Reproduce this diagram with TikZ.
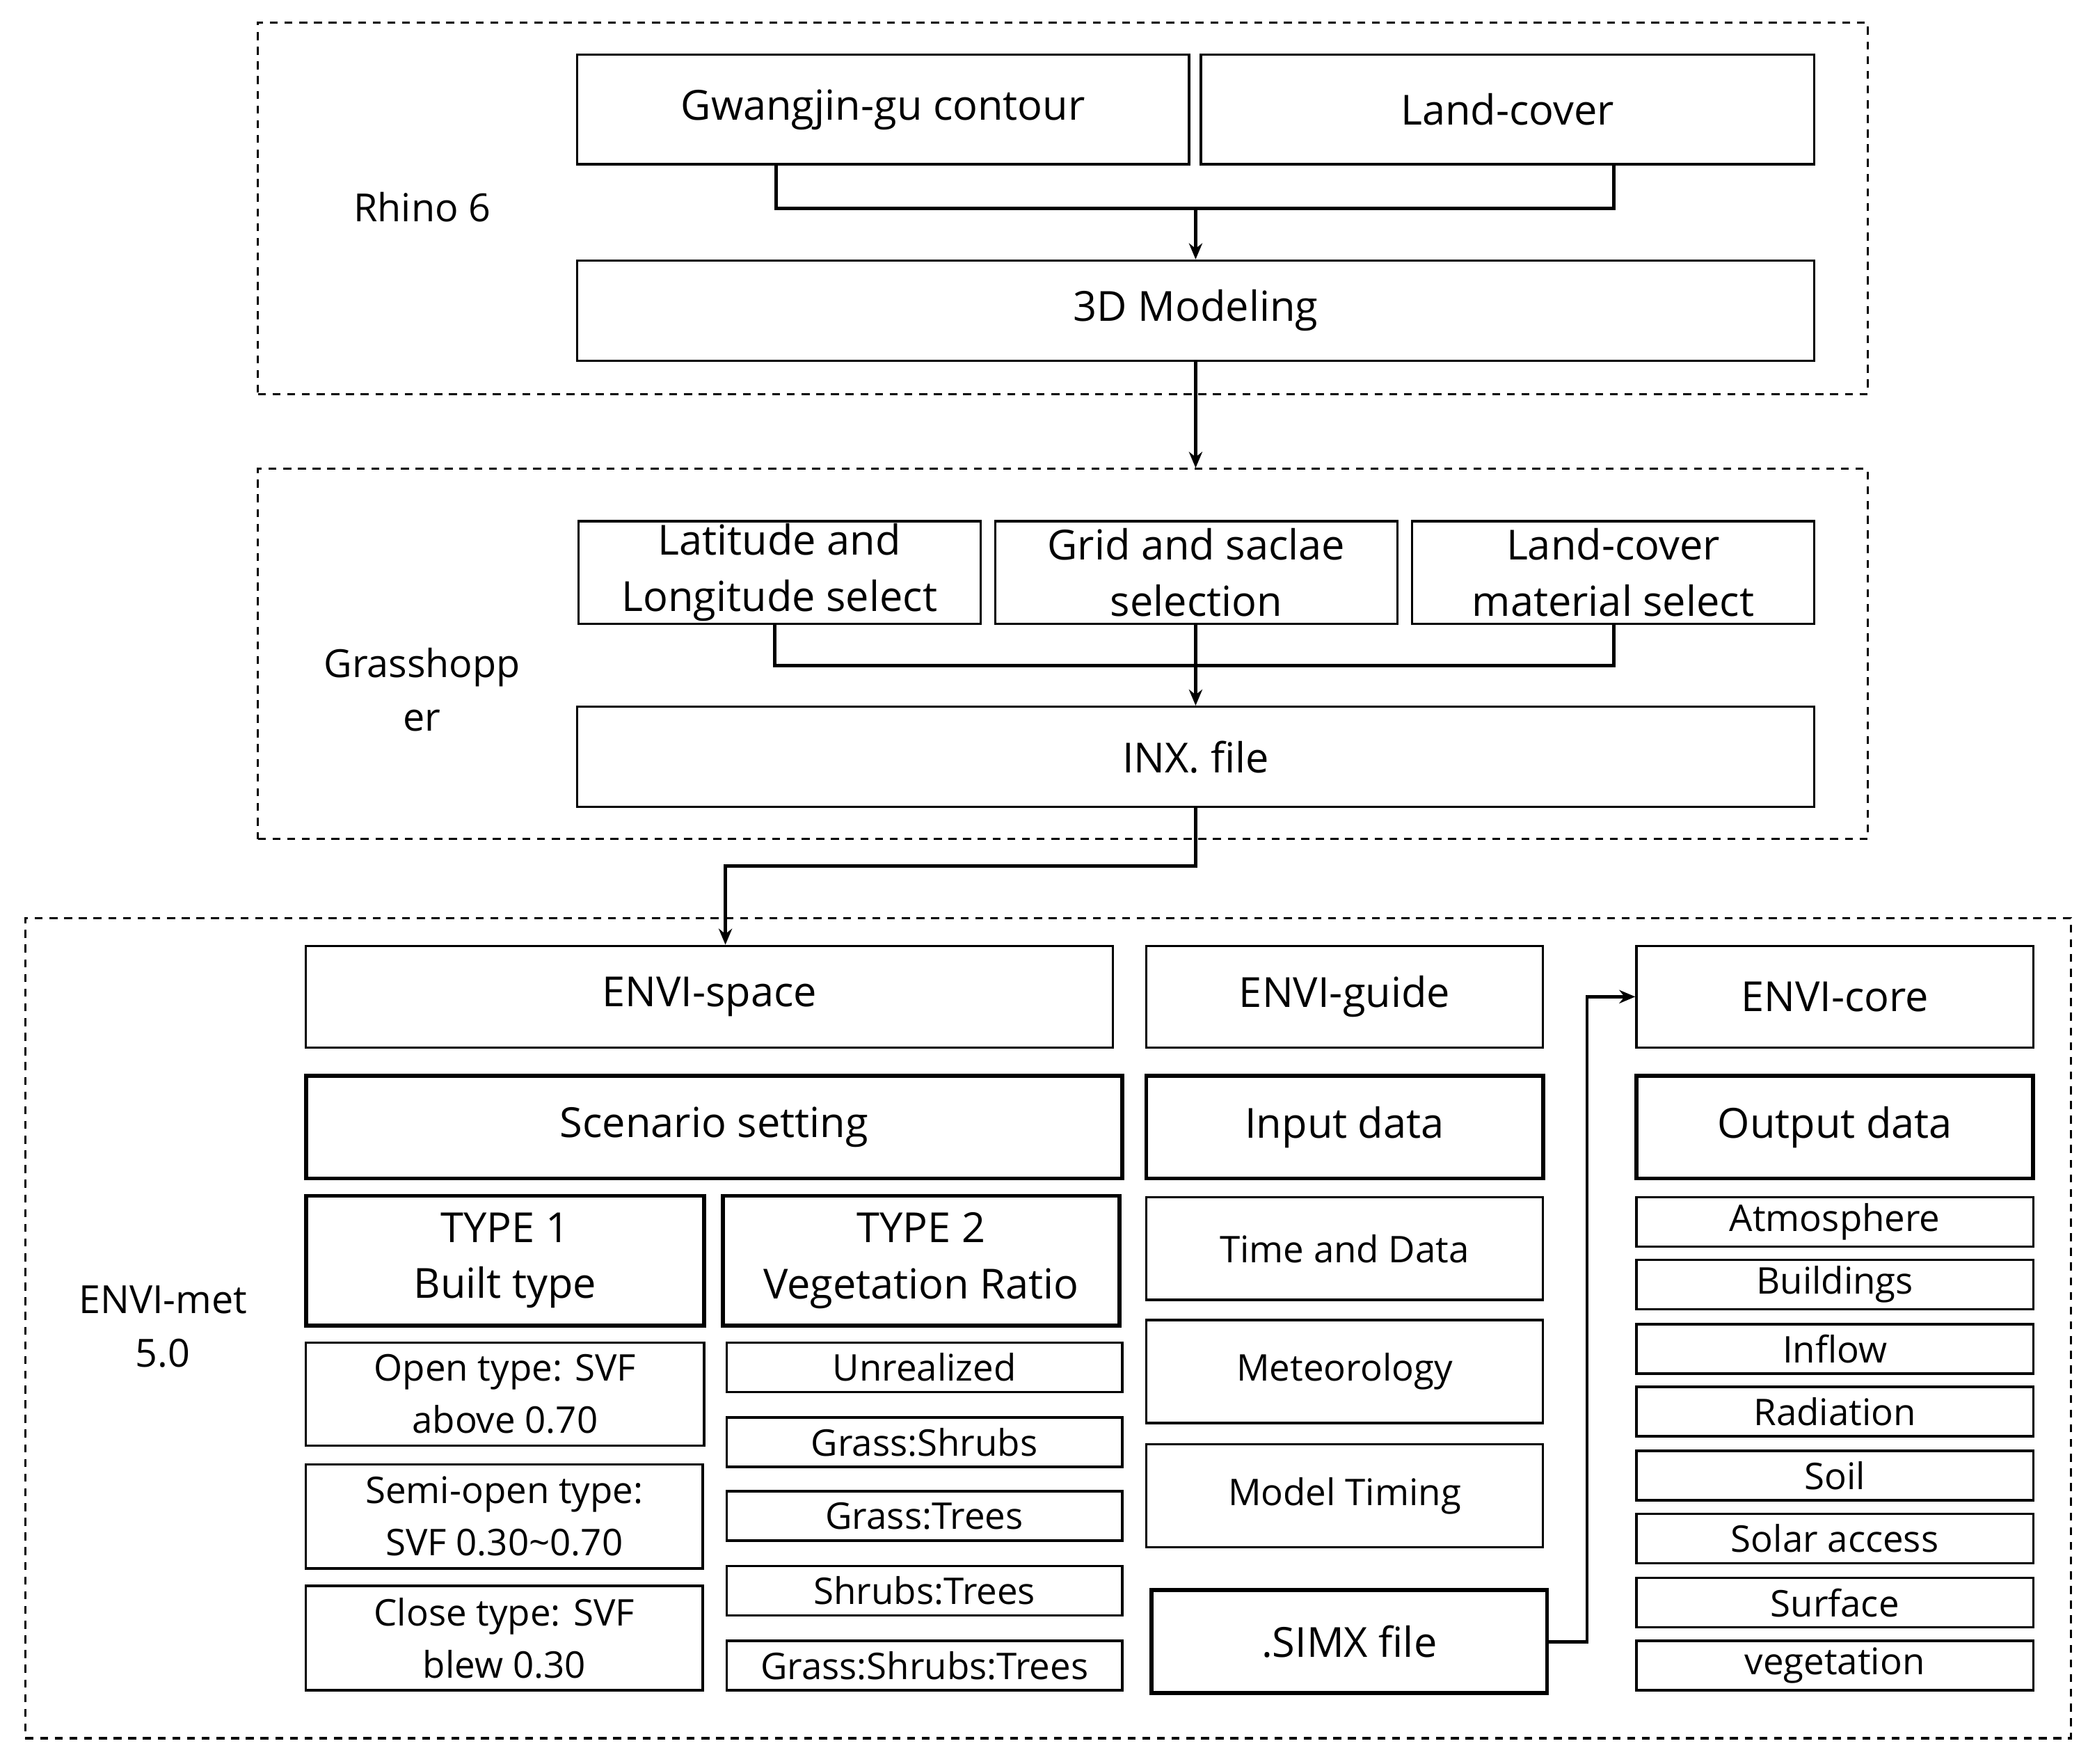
\documentclass[tikz,border=0pt]{standalone}
\usepackage{fontspec}
\setmainfont{Open Sans}
\usetikzlibrary{arrows.meta}
\begin{document}
\begin{tikzpicture}[x=1pt,y=-1pt,
 bx/.style={draw,line width=1.8pt,align=center,inner sep=0pt,font=\fontsize{31}{42}\selectfont},
 tb/.style={bx,line width=3pt},
 sm/.style={bx,font=\fontsize{27.5}{39}\selectfont},
 grp/.style={draw,dashed,line width=1.6pt,dash pattern=on 6pt off 5pt},
 lab/.style={align=center,font=\fontsize{29}{40}\selectfont},
 con/.style={line width=2.5pt},
 arr/.style={con,-{Stealth[length=12pt,width=10pt]}}]
\fill[white] (0,0) rectangle (1563,1320);
\useasboundingbox (0,0) rectangle (1563,1320);
\def\B#1#2#3#4#5#6#7{\node[#1,minimum width={#5-#3},minimum height={#6-#4}] (#2) at ({(#3+#5)/2},{(#4+#6)/2}) {#7};}
% groups
\node[grp,minimum width=1205,minimum height=278,inner sep=0] (g1) at (795.5,156) {};
\node[grp,minimum width=1205,minimum height=277,inner sep=0] (g2) at (795.5,489.5) {};
\node[grp,minimum width=1531,minimum height=614,inner sep=0] (g3) at (784.5,994) {};
\node[lab] (l1) at (316,155) {Rhino 6};
\node[lab] (l2) at (316,516) {Grasshopp\\er};
\node[lab] (l3) at (122,993) {ENVI-met\\5.0};
% rhino
\B{bx}{gw}{432}{41}{890}{123}{Gwangjin-gu contour}
\B{bx}{lc}{899}{41}{1358}{123}{Land-cover}
\B{bx}{md}{432}{195}{1358}{270}{3D Modeling}
\coordinate (j1) at (895,156);
\draw[con] (gw.south -| 581,0) |- (j1) -| (lc.south -| 1208,0);
\draw[arr] (j1) -- (md.north -| j1);
\draw[arr] (md.south -| j1) -- (g2.north -| j1);
% grasshopper
\B{bx}{la}{433}{390}{734}{467}{Latitude and\\Longitude select}
\B{bx}{gr}{745}{390}{1046}{467}{Grid and saclae\\selection}
\B{bx}{lm}{1057}{390}{1358}{467}{Land-cover\\material select}
\B{bx}{inx}{432}{529}{1358}{604}{INX. file}
\coordinate (j2) at (895,498);
\draw[con] (la.south -| 580,0) |- (j2) -| (lm.south -| 1208,0);
\draw[con] (gr.south -| j2) -- (j2);
\draw[arr] (j2) -- (inx.north -| j2);
% envi
\B{bx}{es}{229}{708}{833}{784}{ENVI-space}
\B{bx}{eg}{858}{708}{1155}{784}{ENVI-guide}
\B{bx}{ec}{1225}{708}{1522}{784}{ENVI-core}
\coordinate (j3) at (895,648);
\draw[arr] (inx.south -| j3) -- (j3) -| (es.north -| 543,0);
\B{tb}{sc}{229}{805}{840}{882}{Scenario setting}
\B{tb}{id}{858}{805}{1155}{882}{Input data}
\B{tb}{od}{1225}{805}{1522}{882}{Output data}
\B{tb}{t1}{229}{895}{527}{992}{TYPE 1\\Built type}
\B{tb}{t2}{541}{895}{838}{992}{TYPE 2\\Vegetation Ratio}
\B{sm}{o1}{229}{1005}{527}{1082}{Open type: SVF\\above 0.70}
\B{sm}{o2}{229}{1096}{526}{1174}{Semi-open type:\\SVF 0.30\textasciitilde0.70}
\B{sm}{o3}{229}{1187}{526}{1265}{Close type: SVF\\blew 0.30}
\B{sm}{v1}{544}{1005}{840}{1042}{Unrealized}
\B{sm}{v2}{544}{1061}{840}{1098}{Grass:Shrubs}
\B{sm}{v3}{544}{1116}{840}{1153}{Grass:Trees}
\B{sm}{v4}{544}{1172}{840}{1209}{Shrubs:Trees}
\B{sm}{v5}{544}{1228}{840}{1265}{Grass:Shrubs:Trees}
\B{sm}{m1}{858}{896}{1155}{973}{Time and Data}
\B{sm}{m2}{858}{988}{1155}{1065}{Meteorology}
\B{sm}{m3}{858}{1081}{1155}{1158}{Model Timing}
\B{tb}{sx}{862}{1190}{1158}{1267}{.SIMX file}
\B{sm}{r1}{1225}{896}{1522}{933}{Atmosphere}
\B{sm}{r2}{1225}{943}{1522}{980}{Buildings}
\B{sm}{r3}{1225}{991}{1522}{1028}{Inflow}
\B{sm}{r4}{1225}{1038}{1522}{1075}{Radiation}
\B{sm}{r5}{1225}{1086}{1522}{1123}{Soil}
\B{sm}{r6}{1225}{1133}{1522}{1170}{Solar access}
\B{sm}{r7}{1225}{1181}{1522}{1218}{Surface}
\B{sm}{r8}{1225}{1228}{1522}{1265}{vegetation}
\coordinate (j4) at (1188,1229);
\draw[arr] (sx.east |- j4) -- (j4) |- (ec.west);
\end{tikzpicture}
\end{document}
